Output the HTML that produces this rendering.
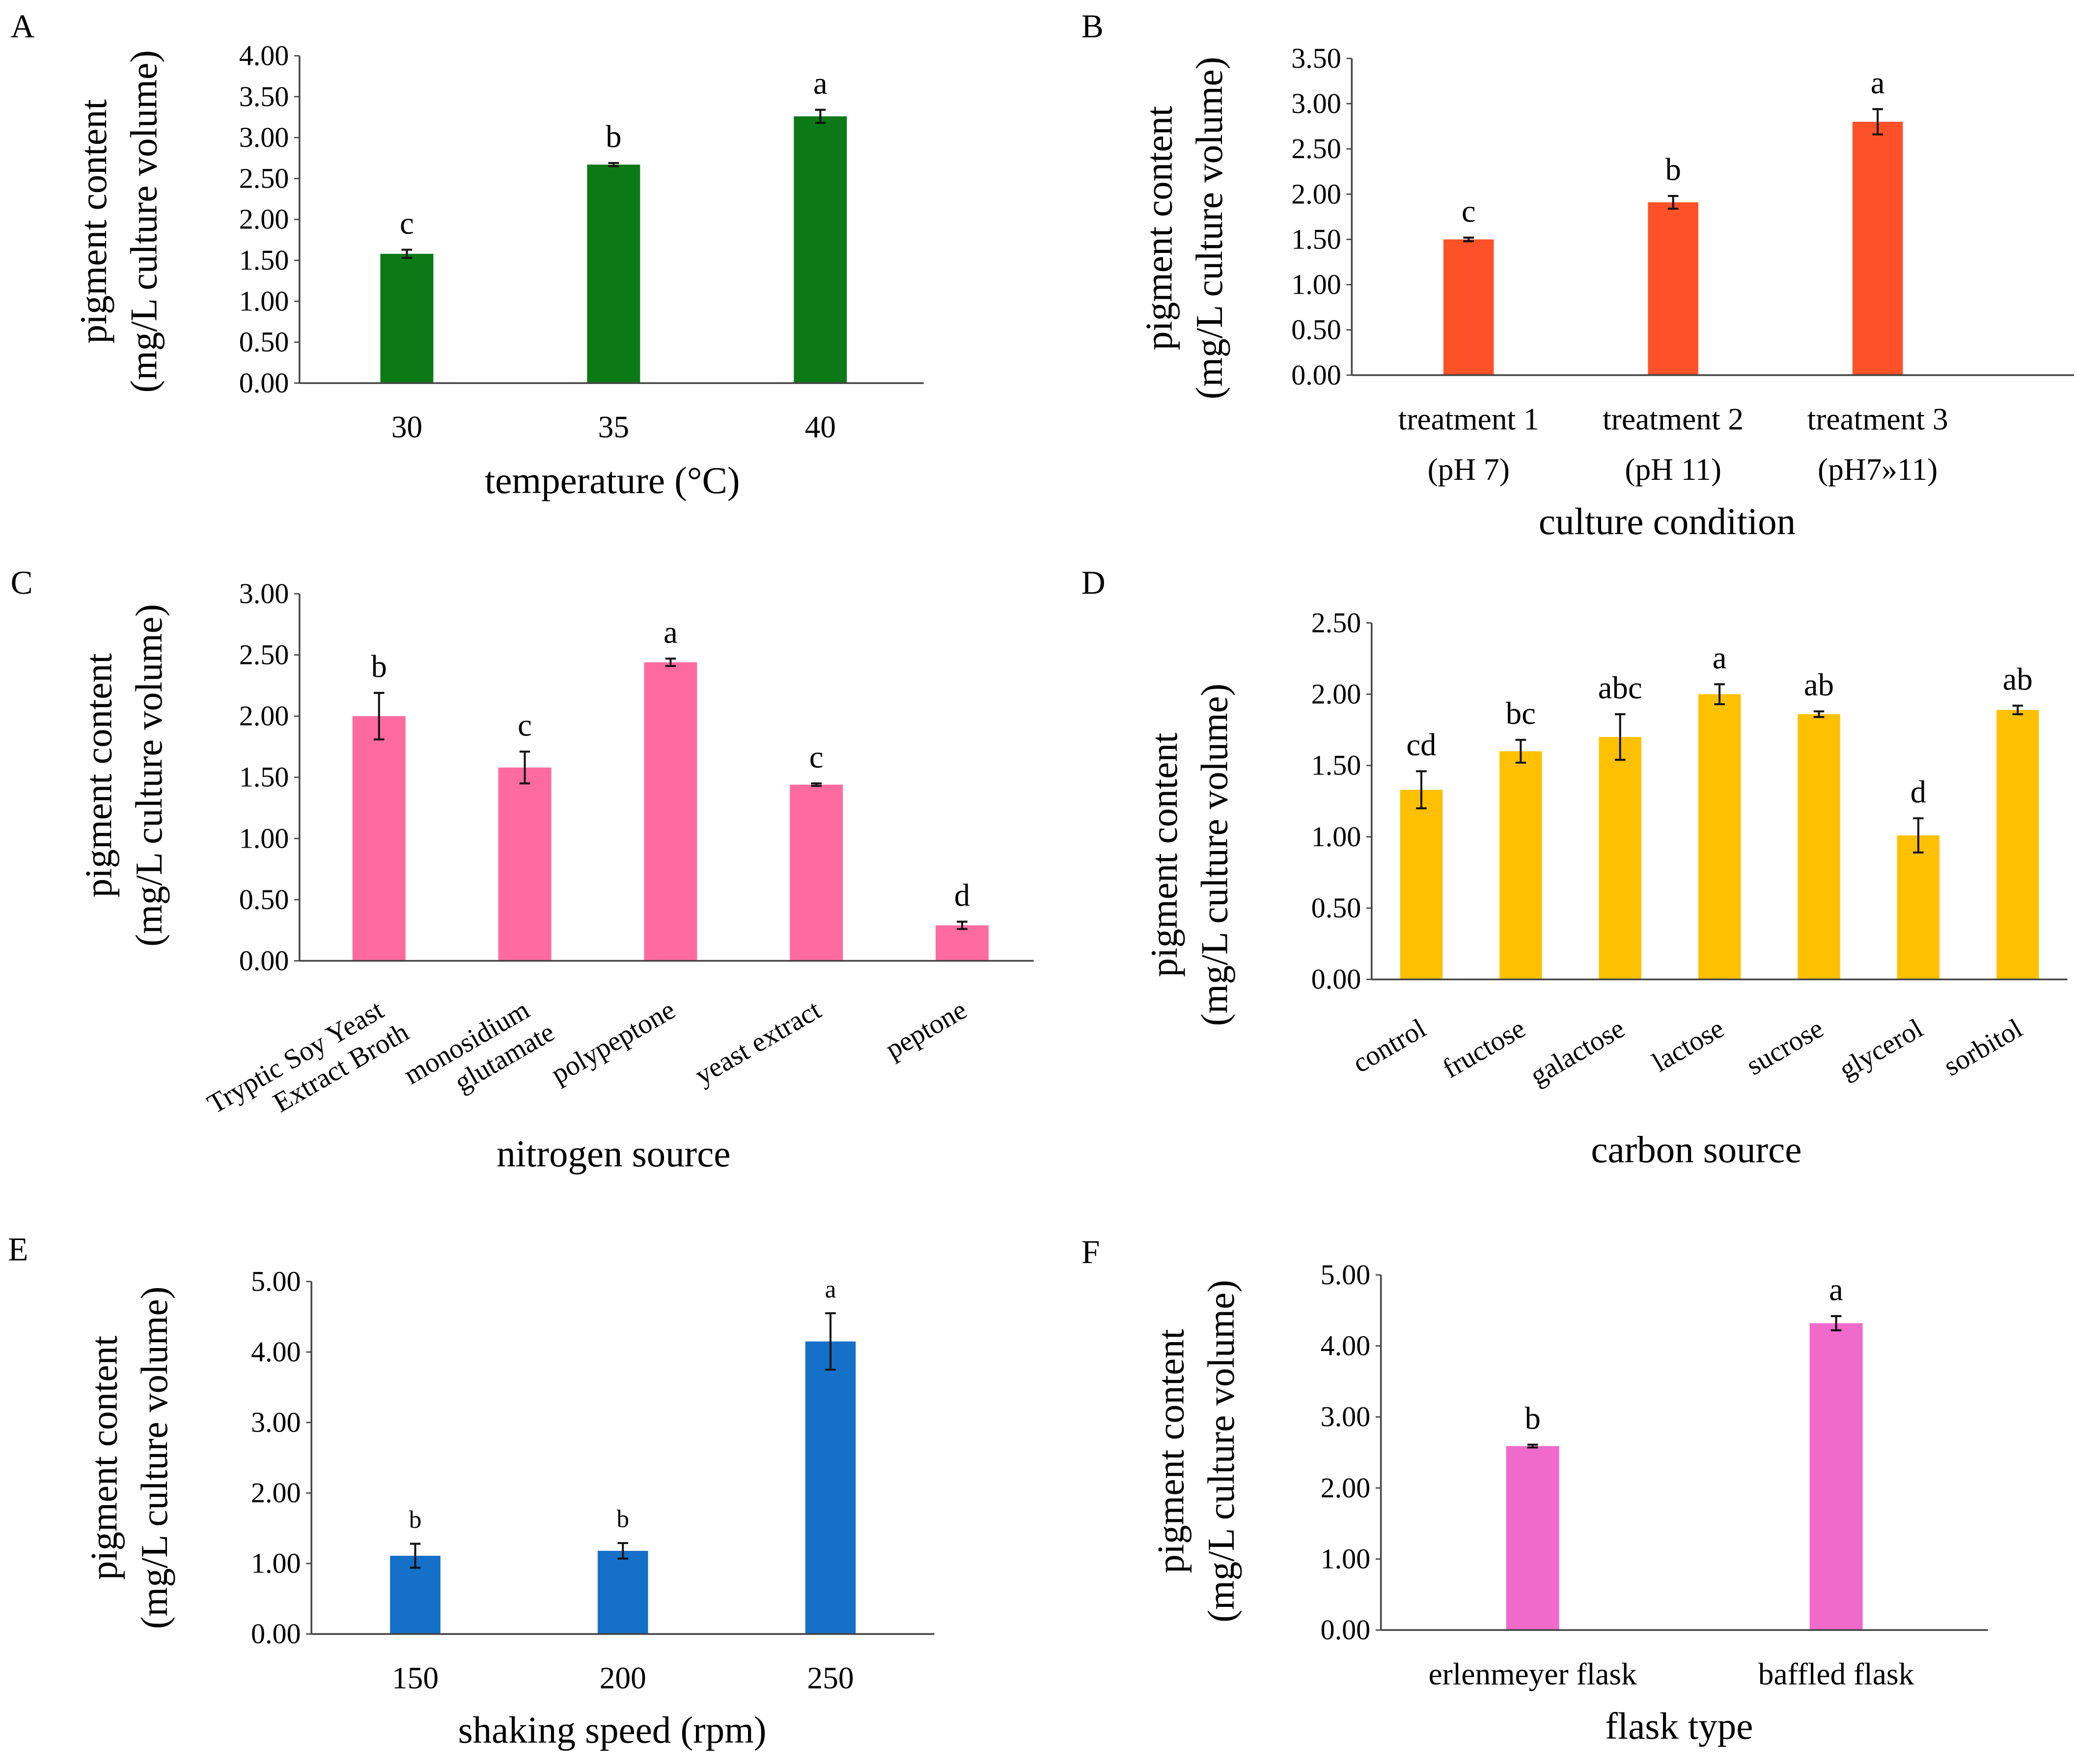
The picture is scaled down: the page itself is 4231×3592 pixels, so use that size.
<!DOCTYPE html>
<html><head><meta charset="utf-8">
<style>
html,body{margin:0;padding:0;background:#fff;}
svg{display:block;font-family:"Liberation Serif",serif;}
</style></head>
<body>
<svg id="fig" width="4231" height="3592" viewBox="0 0 1568 1331" xmlns="http://www.w3.org/2000/svg"></svg>
<script>
// Panel A
const catsA=["30","35","40"];
const valsA=[1.58,2.67,3.26];
const errA=[0.05,0.02,0.08];
const letA=["c","b","a"];
const ticksA=[0,0.5,1,1.5,2,2.5,3,3.5,4];
// Panel B
const catsB=[["treatment 1","(pH 7)"],["treatment 2","(pH 11)"],["treatment 3","(pH7»11)"]];
const valsB=[1.50,1.91,2.80];
const errB=[0.02,0.07,0.14];
const letB=["c","b","a"];
const ticksB=[0,0.5,1,1.5,2,2.5,3,3.5];
// Panel C
const catsC=[["Tryptic Soy Yeast","Extract Broth"],["monosidium","glutamate"],["polypeptone"],["yeast extract"],["peptone"]];
const valsC=[2.00,1.58,2.44,1.44,0.29];
const errC=[0.19,0.13,0.03,0.01,0.03];
const letC=["b","c","a","c","d"];
const ticksC=[0,0.5,1,1.5,2,2.5,3];
// Panel D
const catsD=[["control"],["fructose"],["galactose"],["lactose"],["sucrose"],["glycerol"],["sorbitol"]];
const valsD=[1.33,1.60,1.70,2.00,1.86,1.01,1.89];
const errD=[0.13,0.08,0.16,0.07,0.02,0.12,0.03];
const letD=["cd","bc","abc","a","ab","d","ab"];
const ticksD=[0,0.5,1,1.5,2,2.5];
// Panel E
const catsE=["150","200","250"];
const valsE=[1.11,1.18,4.15];
const errE=[0.17,0.11,0.40];
const letE=["b","b","a"];
const ticksE=[0,1,2,3,4,5];
// Panel F
const catsF=["erlenmeyer flask","baffled flask"];
const valsF=[2.59,4.32];
const errF=[0.02,0.10];
const letF=["b","a"];
const ticksF=[0,1,2,3,4,5];

const svg=document.getElementById('fig');
const NS="http://www.w3.org/2000/svg";
function mk(tag,attrs,parent){const e=document.createElementNS(NS,tag);for(const k in attrs)e.setAttribute(k,attrs[k]);(parent||svg).appendChild(e);return e;}
function txt(s,attrs,parent){const e=mk('text',attrs,parent);e.textContent=s;return e;}

function panel(p){
  const g=mk('g',{});
  
  
  const pl=txt(p.id,{x:p.lx,y:p.ly,'font-size':25},g);
  
  
  const ymax=p.ticks[p.ticks.length-1];
  const ys=v=>p.y0-(v/ymax)*(p.y0-p.yT);
  p.ticks.forEach(t=>{
    const tl=txt(t.toFixed(2),{x:p.x0-8,y:ys(t)+7,'font-size':21.5,'text-anchor':'end'},g);
    
    
    mk('line',{x1:p.x0-4,x2:p.x0,y1:ys(t),y2:ys(t),stroke:'#444','stroke-width':1},g);
  });
  const ya=mk('line',{x1:p.x0,x2:p.x0,y1:p.yT,y2:p.y0,stroke:'#444','stroke-width':1.3},g);
  
  
  const n=p.vals.length;
  const ca=p.ca!==undefined?p.ca:p.x0, cb=p.cb!==undefined?p.cb:p.x1;
  const step=(cb-ca)/n;
  const xs=i=>ca+step*(i+0.5);
  p.vals.forEach((v,i)=>{
    const cx=xs(i);
    const b=mk('rect',{x:cx-p.bw/2,y:ys(v),width:p.bw,height:p.y0-ys(v),fill:p.color},g);
    
    
    const e=p.err[i];
    const eg=mk('g',{stroke:'#111','stroke-width':1.5},g);
    
    
    mk('line',{x1:cx,x2:cx,y1:ys(v+e),y2:ys(v-e)},eg);
    mk('line',{x1:cx-4,x2:cx+4,y1:ys(v+e),y2:ys(v+e)},eg);
    mk('line',{x1:cx-4,x2:cx+4,y1:ys(v-e),y2:ys(v-e)},eg);
    const lt=txt(p.letters[i],{x:cx,y:ys(v+e)-12,'font-size':p.letSize||24,'text-anchor':'middle'},g);
    
    
    const c=p.cats[i];
    const lines=Array.isArray(c)?c:[c];
    if(p.rot){
      const tg=mk('g',{transform:`translate(${cx+2},${p.y0+36}) rotate(-30)`},g);
      
      
      lines.forEach((l,j)=>txt(l,{x:j*8,y:j*24+6,'font-size':21,'text-anchor':'end'},tg));
    } else {
      lines.forEach((l,j)=>{
        const t=txt(l,{x:cx,y:p.y0+41+j*38,'font-size':23.5,'text-anchor':'middle'},g);
        
        
      });
    }
  });
  const xa=mk('line',{x1:p.x0,x2:p.x1,y1:p.y0,y2:p.y0,stroke:'#444','stroke-width':1.3},g);
  
  
  const xt=txt(p.xtitle,{x:p.xtx,y:p.xty,'font-size':28.5,'text-anchor':'middle'},g);
  
  
  const yt=mk('g',{transform:`translate(${p.ytx},${p.yty}) rotate(-90)`},g);
  
  
  txt('pigment content',{x:0,y:0,'font-size':28.5,'text-anchor':'middle'},yt);
  txt('(mg/L culture volume)',{x:0,y:38,'font-size':28.5,'text-anchor':'middle'},yt);
}

panel({id:'A',lx:8,ly:28,x0:226,x1:697,ca:229,cb:697,y0:289,yT:42,ticks:ticksA,vals:valsA,err:errA,letters:letA,cats:catsA,color:'#0b7a16',bw:40,xtitle:'temperature (°C)',xtx:462,xty:372,ytx:80,yty:167});
panel({id:'B',lx:816,ly:28,x0:1020,x1:1565,ca:1031,cb:1494,y0:283,yT:44,ticks:ticksB,vals:valsB,err:errB,letters:letB,cats:catsB,color:'#ff5128',bw:38,xtitle:'culture condition',xtx:1258,xty:403,ytx:884,yty:172});
panel({id:'C',lx:8,ly:448,x0:226,x1:780,ca:231,cb:781,y0:725,yT:448,ticks:ticksC,vals:valsC,err:errC,letters:letC,cats:catsC,color:'#ff6b9f',bw:40,rot:true,xtitle:'nitrogen source',xtx:463,xty:880,ytx:84,yty:585});
panel({id:'D',lx:816,ly:448,x0:1035,x1:1560,y0:739,yT:470,ticks:ticksD,vals:valsD,err:errD,letters:letD,cats:catsD,color:'#ffc000',bw:32,rot:true,xtitle:'carbon source',xtx:1280,xty:877,ytx:888,yty:645});
panel({id:'E',lx:6,ly:951,x0:235,x1:705,y0:1233,yT:967,ticks:ticksE,vals:valsE,err:errE,letters:letE,cats:catsE,color:'#1470c8',bw:38,letSize:19,xtitle:'shaking speed (rpm)',xtx:462,xty:1315,ytx:88,yty:1100});
panel({id:'F',lx:816,ly:953,x0:1042,x1:1500,y0:1230,yT:962,ticks:ticksF,vals:valsF,err:errF,letters:letF,cats:catsF,color:'#f06acb',bw:40,xtitle:'flask type',xtx:1267,xty:1312,ytx:893,yty:1095});
</script>
</body></html>
